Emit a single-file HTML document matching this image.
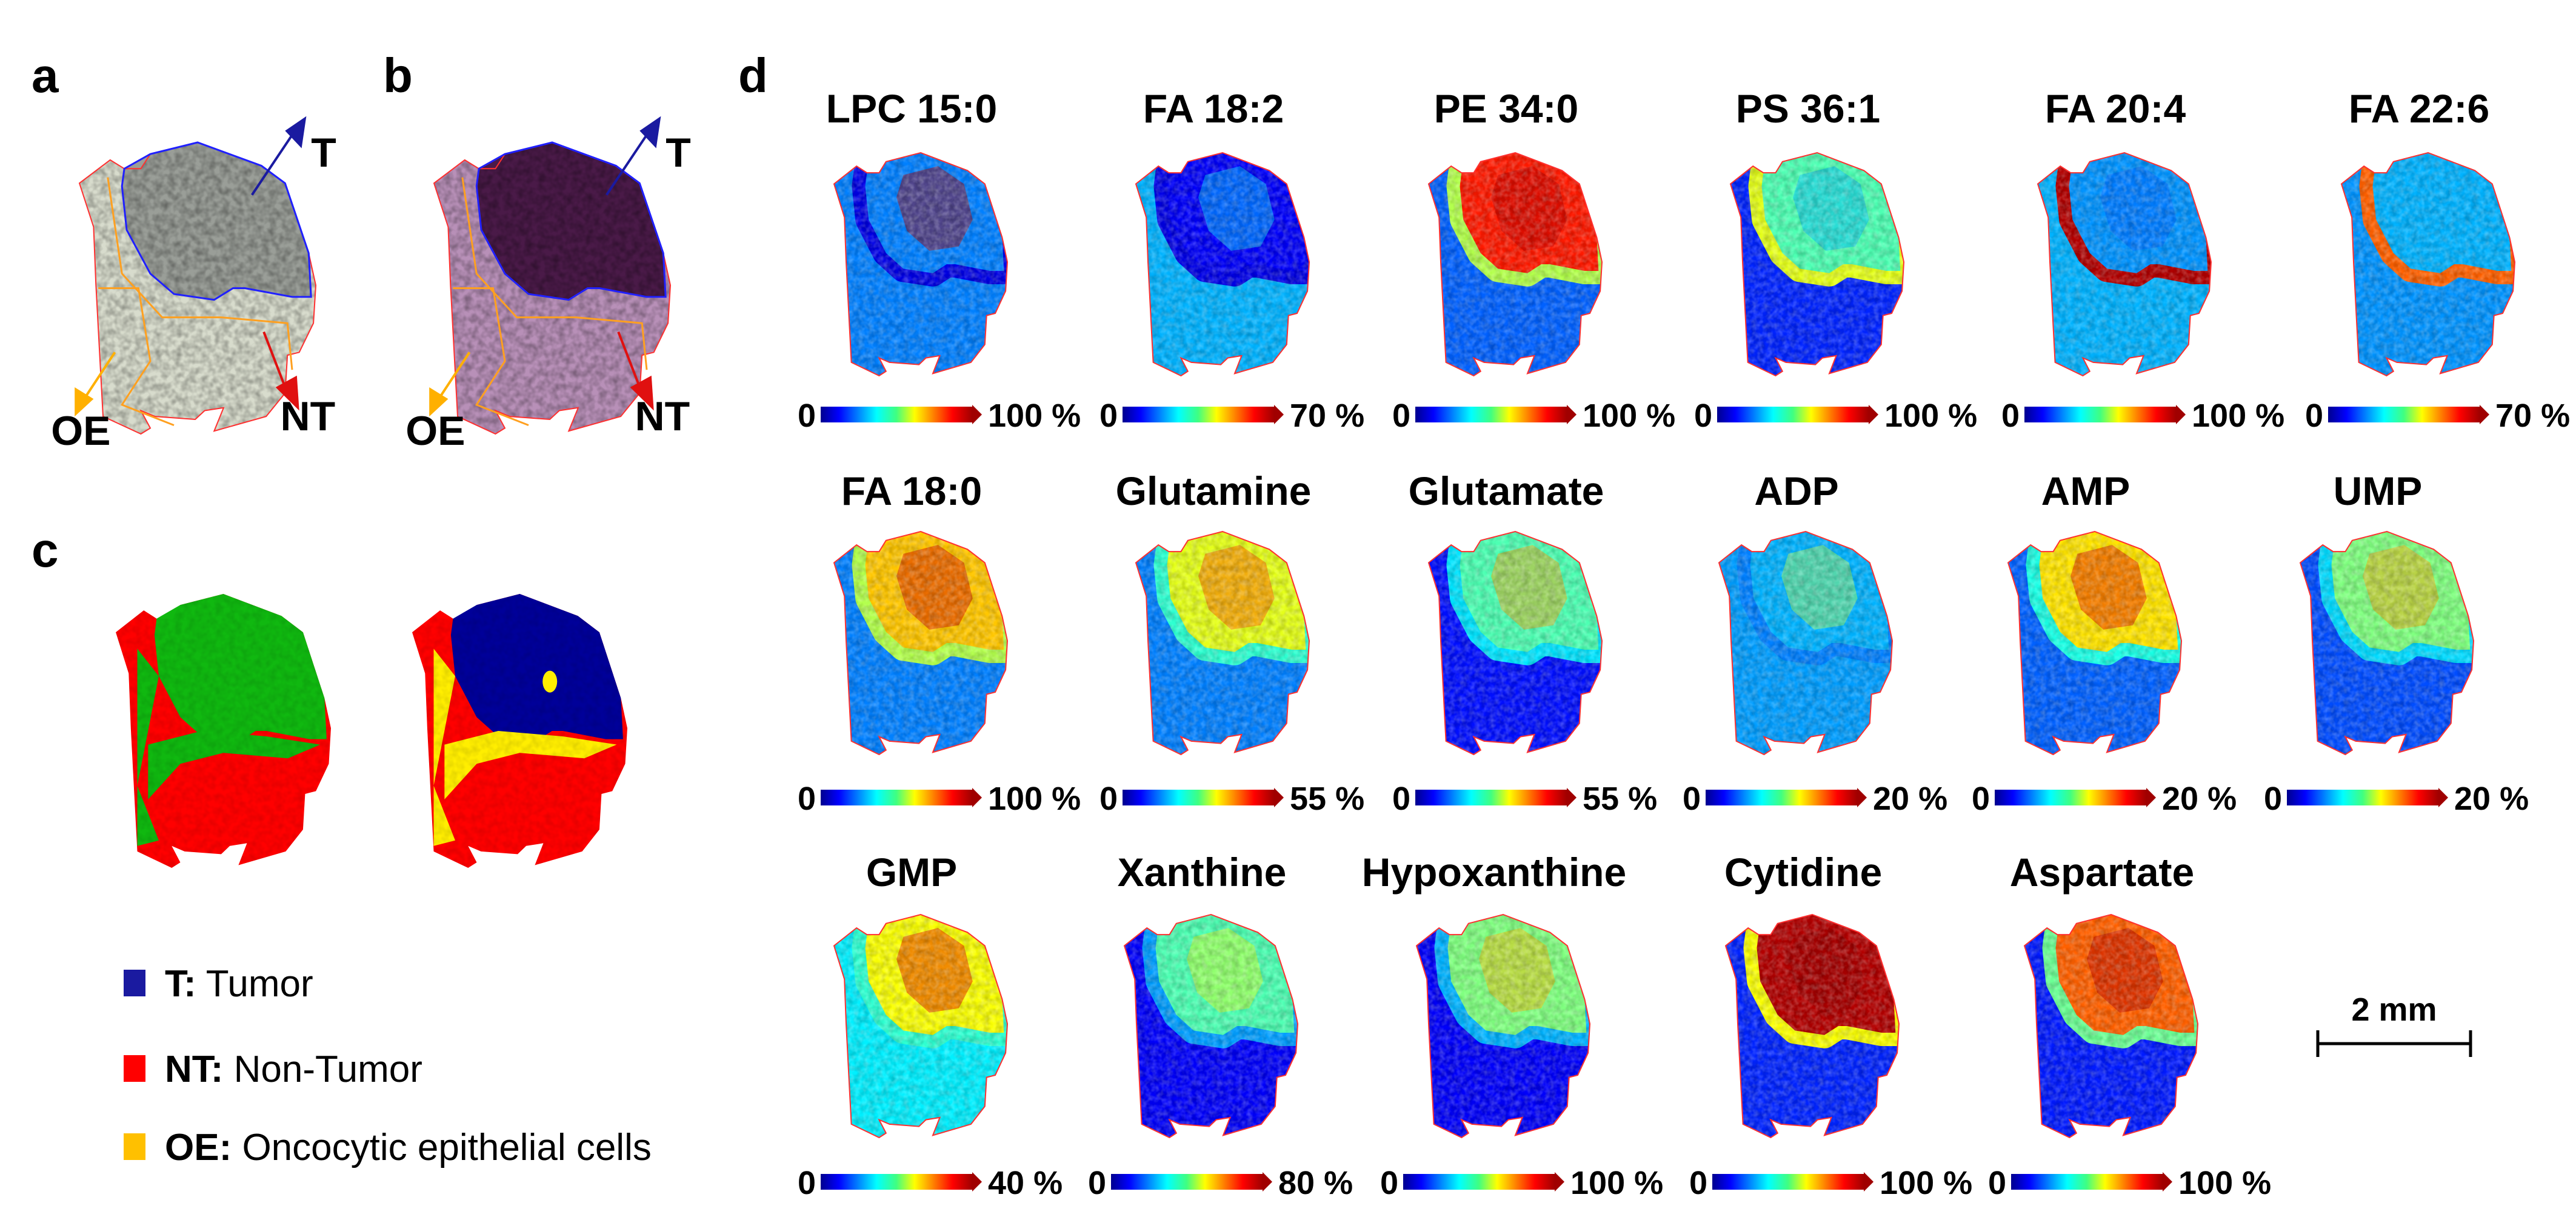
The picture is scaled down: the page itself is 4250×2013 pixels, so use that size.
<!DOCTYPE html>
<html><head><meta charset="utf-8"><style>
html,body{margin:0;padding:0;background:#fff;}
svg{display:block;font-family:"Liberation Sans",Arial,sans-serif;}
</style></head><body>
<svg id="fig" width="4250" height="2013" viewBox="0 0 4250 2013" xmlns="http://www.w3.org/2000/svg">
<defs>
  <linearGradient id="jet" x1="0" x2="1" y1="0" y2="0">
    <stop offset="0" stop-color="#00008f"/><stop offset="0.12" stop-color="#0000ff"/>
    <stop offset="0.37" stop-color="#00ffff"/><stop offset="0.5" stop-color="#40ff80"/>
    <stop offset="0.62" stop-color="#ffff00"/><stop offset="0.87" stop-color="#ff0000"/>
    <stop offset="1" stop-color="#a00000"/>
  </linearGradient>
  <filter id="noise" x="0" y="0" width="1" height="1">
    <feTurbulence type="fractalNoise" baseFrequency="0.09" numOctaves="2" seed="3"/>
    <feColorMatrix type="matrix" values="0 0 0 0 0  0 0 0 0 0  0 0 0 0 0  0 0 0 -1.6 1.1"/>
  </filter>
  <filter id="noiseL" x="0" y="0" width="1" height="1">
    <feTurbulence type="fractalNoise" baseFrequency="0.12" numOctaves="2" seed="7"/>
    <feColorMatrix type="matrix" values="0 0 0 0 1  0 0 0 0 1  0 0 0 0 1  0 0 0 -1.8 1.2"/>
  </filter>
</defs>
<g id="panelA"></g>
<g id="panelC"></g>
<g id="panelD"></g>
</svg>
<script>
// ---- data ----
const names = ["LPC 15:0","FA 18:2","PE 34:0","PS 36:1","FA 20:4","FA 22:6",
 "FA 18:0","Glutamine","Glutamate","ADP","AMP","UMP",
 "GMP","Xanthine","Hypoxanthine","Cytidine","Aspartate"];
const maxLabels = ["100 %","70 %","100 %","100 %","100 %","70 %",
 "100 %","55 %","55 %","20 %","20 %","20 %",
 "40 %","80 %","100 %","100 %","100 %"];
const tumorVals  = [0.25,0.12,0.85,0.45,0.27,0.30, 0.68,0.60,0.45,0.30,0.65,0.50, 0.62,0.45,0.50,0.95,0.78];
const normalVals = [0.25,0.30,0.22,0.16,0.30,0.27, 0.25,0.25,0.14,0.28,0.22,0.20, 0.36,0.12,0.12,0.16,0.15];
const rimVals    = [0.10,0.10,0.55,0.60,0.95,0.78, 0.55,0.42,0.35,0.25,0.40,0.34, 0.42,0.28,0.30,0.62,0.48];
const coreVals   = [0.95,0.35,0.95,0.30,0.22,0.30, 0.92,0.80,0.72,0.55,0.90,0.72, 0.90,0.60,0.70,0.98,0.95];

const NS="http://www.w3.org/2000/svg";
function el(tag,attrs,parent){const e=document.createElementNS(NS,tag);for(const k in attrs)e.setAttribute(k,attrs[k]);if(parent)parent.appendChild(e);return e;}
function jet(v){const c=x=>Math.round(255*Math.max(0,Math.min(1,x)));
 return `rgb(${c(1.5-Math.abs(4*v-3))},${c(1.5-Math.abs(4*v-2))},${c(1.5-Math.abs(4*v-1))})`;}
const tissue=[[0.13,0.06],[0.19,0.09],[0.26,0.09],[0.30,0.04],[0.5,0],[0.77,0.08],[0.87,0.14],[0.97,0.38],[1,0.49],[0.99,0.62],[0.93,0.72],[0.88,0.73],[0.87,0.86],[0.79,0.94],[0.57,0.99],[0.61,0.91],[0.53,0.92],[0.49,0.95],[0.32,0.94],[0.26,0.92],[0.30,0.98],[0.26,1],[0.1,0.94],[0.09,0.79],[0.07,0.49],[0.06,0.29],[0,0.14]];
const tumor=[[0.19,0.09],[0.3,0.04],[0.5,0],[0.77,0.08],[0.87,0.14],[0.97,0.38],[0.98,0.53],[0.9,0.53],[0.7,0.5],[0.65,0.5],[0.57,0.54],[0.4,0.52],[0.3,0.45],[0.2,0.3],[0.18,0.15]];
const core=[[0.4,0.1],[0.6,0.06],[0.75,0.14],[0.8,0.3],[0.72,0.42],[0.55,0.44],[0.42,0.35],[0.36,0.2]];
function pts(p,x,y,w,h){return p.map(q=>(x+q[0]*w).toFixed(1)+","+(y+q[1]*h).toFixed(1)).join(" ");}
let cid=0;
function clipFor(x,y,w,h){const id="clip"+(cid++);const cp=el("clipPath",{id},document.querySelector("defs"));el("polygon",{points:pts(tissue,x,y,w,h)},cp);return id;}

// ---- panel a / b ----
const A=document.getElementById("panelA");
function letter(t,x,y,name){const e=el("text",{x,y,"font-size":80,"font-weight":"bold",fill:"#000"},A);e.textContent=t;}
letter("a",52,152,"label-a");letter("b",632,152,"label-b");letter("c",52,935,"label-c");letter("d",1218,152,"label-d");
function histo(x,name,normCol,tumCol){
 const y=235,w=390,h=481;const g=el("g",{},A);
 
 const id=clipFor(x,y,w,h);
 el("polygon",{points:pts(tissue,x,y,w,h),fill:normCol},g);
 el("polygon",{points:pts(tumor,x,y,w,h),fill:tumCol},g);
 el("rect",{x,y,width:w,height:h,filter:"url(#noise)",opacity:0.35,"clip-path":`url(#${id})`},g);
 el("polygon",{points:pts(tissue,x,y,w,h),fill:"none",stroke:"#ff3030","stroke-width":2},g);
 el("polygon",{points:pts(tumor,x,y,w,h),fill:"none",stroke:"#2020ff","stroke-width":3},g);
 el("polyline",{points:pts([[0.12,0.12],[0.18,0.45],[0.35,0.6],[0.6,0.6],[0.88,0.62],[0.9,0.78]],x,y,w,h),fill:"none",stroke:"#ffa020","stroke-width":3},g);
 el("polyline",{points:pts([[0.08,0.5],[0.25,0.5],[0.3,0.75],[0.18,0.9],[0.4,0.97]],x,y,w,h),fill:"none",stroke:"#ffa020","stroke-width":3},g);
 el("line",{x1:x+0.73*w,y1:y+0.18*h,x2:x+0.92*w,y2:y-0.05*h,stroke:"#1a1aa0","stroke-width":4},g);
 el("polygon",{points:pts([[0.96,-0.09],[0.87,-0.04],[0.94,0.02]],x,y,w,h),fill:"#1a1aa0"},g);
 el("line",{x1:x+0.78*w,y1:y+0.65*h,x2:x+0.88*w,y2:y+0.86*h,stroke:"#e01010","stroke-width":4},g);
 el("polygon",{points:pts([[0.93,0.92],[0.83,0.84],[0.92,0.8]],x,y,w,h),fill:"#e01010"},g);
 el("line",{x1:x+0.15*w,y1:y+0.72*h,x2:x+0.02*w,y2:y+0.88*h,stroke:"#ffb000","stroke-width":4},g);
 el("polygon",{points:pts([[-0.02,0.94],[-0.02,0.84],[0.06,0.88]],x,y,w,h),fill:"#ffb000"},g);
 [["T",x+0.98*w,y+40],["NT",x+0.85*w,y+h-6],["OE",x-0.12*w,y+h+18]].forEach(t=>{
  const e=el("text",{x:t[1],y:t[2],"font-size":68,"font-weight":"bold"},g);e.textContent=t[0];
  });
}
histo(131,"optical-image","#d8dccd","#9a9e98");
histo(716,"he-stain-image","#b890b8","#4a1a48");

// ---- panel c ----
const C=document.getElementById("panelC");
function cmap(x,name,top,bottom,spot){
 const y=980,w=355,h=452;const g=el("g",{},C);
 
 const id=clipFor(x,y,w,h);
 el("polygon",{points:pts(tissue,x,y,w,h),fill:bottom},g);
 el("polygon",{points:pts(tumor,x,y,w,h),fill:top},g);
 el("polygon",{points:pts([[0.15,0.55],[0.4,0.5],[0.7,0.52],[0.95,0.55],[0.8,0.6],[0.5,0.58],[0.3,0.62],[0.15,0.75]],x,y,w,h),fill:spot,"clip-path":`url(#${id})`},g);
 el("polygon",{points:pts([[0.1,0.2],[0.2,0.3],[0.15,0.5],[0.1,0.7],[0.2,0.9],[0.1,0.92]],x,y,w,h),fill:spot,"clip-path":`url(#${id})`},g);
 el("rect",{x,y,width:w,height:h,filter:"url(#noise)",opacity:0.12,"clip-path":`url(#${id})`},g);
 return g;
}
cmap(191,"segmentation-map-2class","#10b810","#ff0000","#10b810");
const g2=cmap(680,"segmentation-map-3class","#000099","#ff0000","#ffee00");
el("ellipse",{cx:680+0.64*355,cy:980+0.32*452,rx:12,ry:18,fill:"#ffee00"},g2);
const legend=[["#1a1aa0","T:"," Tumor",1600],["#ff0000","NT:"," Non-Tumor",1741],["#ffc000","OE:"," Oncocytic epithelial cells",1870]];
legend.forEach((L,i)=>{
 const g=el("g",{},C);
 el("rect",{x:204,y:L[3],width:36,height:44,fill:L[0]},g);
 const t=el("text",{x:272,y:L[3]+44,"font-size":62},g);
 const b=el("tspan",{"font-weight":"bold"},t);b.textContent=L[1];
 const r=el("tspan",{},t);r.textContent=L[2];
});

// ---- panel d ----
const D=document.getElementById("panelD");
const rowTitleY=[202,833,1462], rowTissueY=[252,877,1509], rowBarY=[671,1303,1937];
const barStarts=[[1354,1852,2335,2833,3340,3841],[1354,1852,2335,2814,3291,3773],[1354,1833,2315,2825,3318]];
for(let i=0;i<names.length;i++){
 const r=Math.floor(i/6), c=i%6, bx=barStarts[r][c];
 const g=el("g",{},D);
 const tx=bx+150;
 const t=el("text",{x:tx,y:rowTitleY[r],"font-size":66,"font-weight":"bold","text-anchor":"middle"},g);t.textContent=names[i];
 
 const x=bx+22,y=rowTissueY[r],w=286,h=368;
 const id=clipFor(x,y,w,h);
 const cg=el("g",{"clip-path":`url(#${id})`},g);
 el("rect",{x,y,width:w,height:h,fill:jet(normalVals[i])},cg);
 el("polygon",{points:pts(tumor,x,y,w,h),fill:"none",stroke:jet(rimVals[i]),"stroke-width":44,"stroke-linejoin":"round"},cg);
 el("polygon",{points:pts(tumor,x,y,w,h),fill:jet(tumorVals[i])},cg);
 el("polygon",{points:pts(core,x,y,w,h),fill:jet(coreVals[i]),opacity:0.45},cg);
 el("rect",{x,y,width:w,height:h,filter:"url(#noise)",opacity:0.22},cg);
 el("rect",{x,y,width:w,height:h,filter:"url(#noiseL)",opacity:0.25},cg);
 el("polygon",{points:pts(tissue,x,y,w,h),fill:"none",stroke:"#ff3030","stroke-width":2},g);
 const by=rowBarY[r];
 const cb=el("g",{},g);
 el("rect",{x:bx,y:by,width:250,height:26,fill:"url(#jet)"},cb);
 el("polygon",{points:`${bx+250},${by-3} ${bx+266},${by+13} ${bx+250},${by+29}`,fill:"#a00000"},cb);
 const z=el("text",{x:bx-8,y:by+33,"font-size":54,"font-weight":"bold","text-anchor":"end"},cb);z.textContent="0";
 const m=el("text",{x:bx+276,y:by+33,"font-size":54,"font-weight":"bold"},cb);m.textContent=maxLabels[i];
}
const sb=el("g",{},D);
el("line",{x1:3822,y1:1722,x2:4078,y2:1722,stroke:"#000","stroke-width":5},sb);
el("line",{x1:3824,y1:1700,x2:3824,y2:1744,stroke:"#000","stroke-width":5},sb);
el("line",{x1:4076,y1:1700,x2:4076,y2:1744,stroke:"#000","stroke-width":5},sb);
const st=el("text",{x:3950,y:1684,"font-size":54,"font-weight":"bold","text-anchor":"middle"},sb);st.textContent="2 mm";
</script>
</body></html>
